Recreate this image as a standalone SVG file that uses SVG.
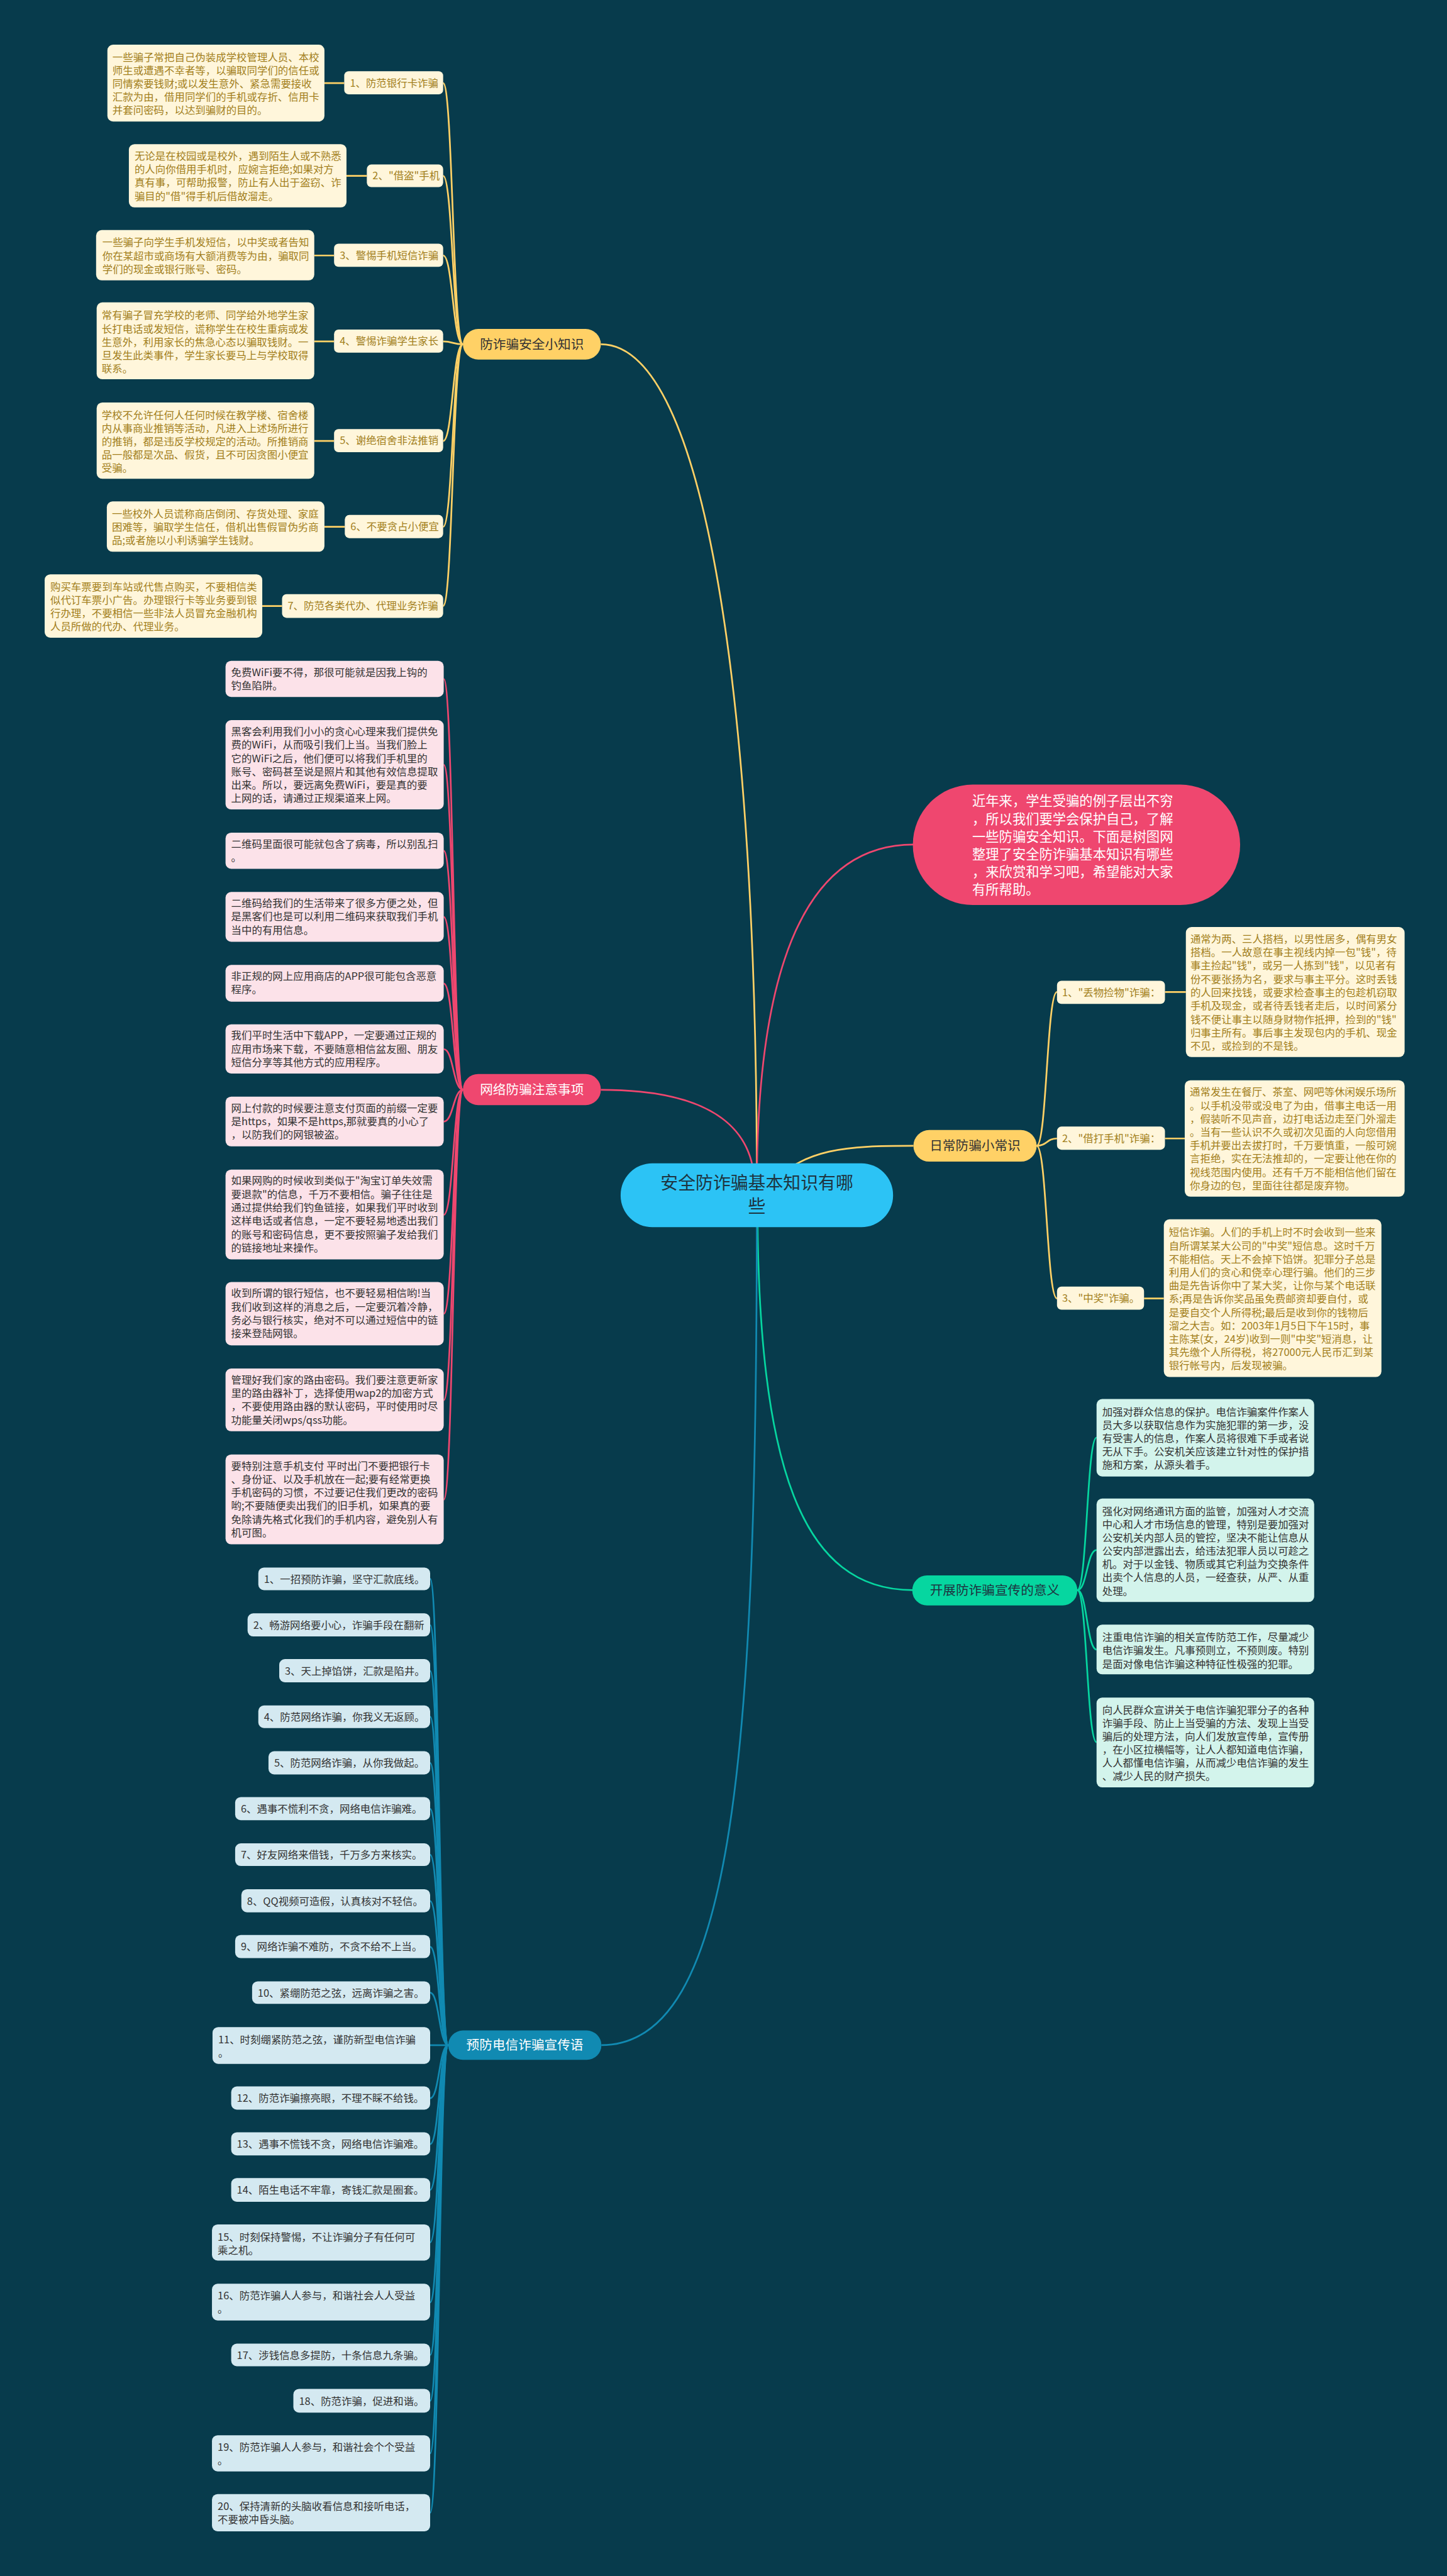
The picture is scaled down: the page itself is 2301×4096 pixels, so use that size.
<svg xmlns="http://www.w3.org/2000/svg" width="2301" height="4096" viewBox="0 0 2301 4096">
<style>
text{font-family:"Noto Sans CJK SC","Noto Sans",sans-serif}
.bg{fill:#073B4C}
.c{fill:none;stroke-width:3}
.cy{stroke:#FFD166}.cr{stroke:#EF476F}.cg{stroke:#06D6A0}.cb{stroke:#118AB2}
.yl{fill:#FFF6DB}.rl{fill:#FCE2E9}.gl{fill:#D3F4EC}.bl{fill:#D4E9F1}
.yt{fill:#A27F1C;font-size:18.3px}
.dt{fill:#333333;font-size:18.3px}
.bt{fill:#333333;font-size:18.3px}
.pt{font-size:23px}
</style>
<rect class="bg" x="0" y="0" width="2301" height="4096"/>
<g transform="scale(0.89883)">
<g id="connectors">
<path class="c cy" stroke-width="3.5" d="M1339,2100 C1339,1250 1250,609 1063,609"/>
<path class="c cr" stroke-width="3.5" d="M1063,1928 C1250,1928 1335,1990 1335,2100"/>
<path class="c cr" stroke-width="3.5" d="M1339,2100 C1339,1700 1430,1494 1616,1494"/>
<path class="c cy" stroke-width="3.5" d="M1360,2100 C1420,2030 1500,2027 1616,2027"/>
<path class="c cg" stroke-width="3.5" d="M1340,2120 C1340,2600 1420,2813 1615,2813"/>
<path class="c cb" stroke-width="3.5" d="M1339,2120 C1339,3100 1300,3618 1064,3618"/>
<path class="c cy" d="M819,609 C801,609 801,147 784,147"/>
<path class="c cy" d="M819,609 C801,609 801,311 784,311"/>
<path class="c cy" d="M819,609 C801,609 801,452 784,452"/>
<path class="c cy" d="M819,609 C801,609 801,604 784,604"/>
<path class="c cy" d="M819,609 C801,609 801,780 784,780"/>
<path class="c cy" d="M819,609 C801,609 801,932 784,932"/>
<path class="c cy" d="M819,609 C801,609 801,1072 784,1072"/>
<path class="c cy" stroke-width="3.5" d="M574,147 H609 M613,311 H649 M556,452 H591 M556,604 H591 M556,780 H591 M574,932 H610 M464,1072 H499"/>
<path class="c cr" d="M819,1928 C802,1928 802,1201 785,1201"/>
<path class="c cr" d="M819,1928 C802,1928 802,1353 785,1353"/>
<path class="c cr" d="M819,1928 C802,1928 802,1505 785,1505"/>
<path class="c cr" d="M819,1928 C802,1928 802,1622 785,1622"/>
<path class="c cr" d="M819,1928 C802,1928 802,1740 785,1740"/>
<path class="c cr" d="M819,1928 C802,1928 802,1856 785,1856"/>
<path class="c cr" d="M819,1928 C802,1928 802,1984 785,1984"/>
<path class="c cr" d="M819,1928 C802,1928 802,2149 785,2149"/>
<path class="c cr" d="M819,1928 C802,1928 802,2324 785,2324"/>
<path class="c cr" d="M819,1928 C802,1928 802,2477 785,2477"/>
<path class="c cr" d="M819,1928 C802,1928 802,2653 785,2653"/>
<path class="c cy" d="M1834,2027 C1852,2027 1852,1755 1870,1755"/>
<path class="c cy" d="M1834,2027 C1852,2027 1852,2014 1870,2014"/>
<path class="c cy" d="M1834,2027 C1852,2027 1852,2297 1870,2297"/>
<path class="c cy" stroke-width="3.5" d="M2061,1755 H2098 M2061,2014 H2096 M2024,2297 H2059"/>
<path class="c cg" d="M1906,2813 C1923,2813 1923,2543 1940,2543"/>
<path class="c cg" d="M1906,2813 C1923,2813 1923,2742 1940,2742"/>
<path class="c cg" d="M1906,2813 C1923,2813 1923,2918 1940,2918"/>
<path class="c cg" d="M1906,2813 C1923,2813 1923,3082 1940,3082"/>
<path class="c cb" d="M793,3618 C777,3618 777,2793 761,2793"/>
<path class="c cb" d="M793,3618 C777,3618 777,2875 761,2875"/>
<path class="c cb" d="M793,3618 C777,3618 777,2956 761,2956"/>
<path class="c cb" d="M793,3618 C777,3618 777,3037 761,3037"/>
<path class="c cb" d="M793,3618 C777,3618 777,3119 761,3119"/>
<path class="c cb" d="M793,3618 C777,3618 777,3200 761,3200"/>
<path class="c cb" d="M793,3618 C777,3618 777,3281 761,3281"/>
<path class="c cb" d="M793,3618 C777,3618 777,3363 761,3363"/>
<path class="c cb" d="M793,3618 C777,3618 777,3444 761,3444"/>
<path class="c cb" d="M793,3618 C777,3618 777,3525 761,3525"/>
<path class="c cb" d="M793,3618 C777,3618 777,3618 761,3618"/>
<path class="c cb" d="M793,3618 C777,3618 777,3712 761,3712"/>
<path class="c cb" d="M793,3618 C777,3618 777,3793 761,3793"/>
<path class="c cb" d="M793,3618 C777,3618 777,3874 761,3874"/>
<path class="c cb" d="M793,3618 C777,3618 777,3967 761,3967"/>
<path class="c cb" d="M793,3618 C777,3618 777,4073 761,4073"/>
<path class="c cb" d="M793,3618 C777,3618 777,4166 761,4166"/>
<path class="c cb" d="M793,3618 C777,3618 777,4247 761,4247"/>
<path class="c cb" d="M793,3618 C777,3618 777,4340 761,4340"/>
<path class="c cb" d="M793,3618 C777,3618 777,4445 761,4445"/>
</g>

<g id="root">
<rect x="1098" y="2058" width="482" height="113" rx="56" fill="#2CC3F5"/>
<text x="1339" y="2104" text-anchor="middle" font-size="31" fill="#1E3440">安全防诈骗基本知识有哪</text>
<text x="1339" y="2145" text-anchor="middle" font-size="31" fill="#1E3440">些</text>
</g>

<g id="intro">
<rect x="1615" y="1388" width="579" height="213" rx="106" fill="#EF476F"/>
<text font-size="23.7" fill="#FFFFFF"><tspan x="1720" y="1425.5">近年来，学生受骗的例子层出不穷</tspan><tspan x="1720" y="1456.9">，所以我们要学会保护自己，了解</tspan><tspan x="1720" y="1488.3">一些防骗安全知识。下面是树图网</tspan><tspan x="1720" y="1519.7">整理了安全防诈骗基本知识有哪些</tspan><tspan x="1720" y="1551.1">，来欣赏和学习吧，希望能对大家</tspan><tspan x="1720" y="1582.5">有所帮助。</tspan></text>
</g>

<g id="b-safety">
<rect x="819" y="582" width="244" height="54" rx="27" fill="#FFD166"/>
<text class="pt" x="941" y="617" text-anchor="middle" fill="#333333">防诈骗安全小知识</text>
</g>
<g id="b-net">
<rect x="819" y="1900" width="244" height="55" rx="27" fill="#EF476F"/>
<text class="pt" x="941" y="1936" text-anchor="middle" fill="#FFFFFF">网络防骗注意事项</text>
</g>
<g id="b-daily">
<rect x="1616" y="1999" width="218" height="56" rx="28" fill="#FFD166"/>
<text class="pt" x="1725" y="2035" text-anchor="middle" fill="#333333">日常防骗小常识</text>
</g>
<g id="b-meaning">
<rect x="1614" y="2787" width="292" height="53" rx="26" fill="#06D6A0"/>
<text class="pt" x="1760" y="2821" text-anchor="middle" fill="#1E3440">开展防诈骗宣传的意义</text>
</g>
<g id="b-slogan">
<rect x="793" y="3592" width="271" height="52" rx="26" fill="#118AB2"/>
<text class="pt" x="928.5" y="3626" text-anchor="middle" fill="#FFFFFF">预防电信诈骗宣传语</text>
</g>

<g id="s-l1"><rect class="yl" x="609" y="126" width="175" height="41" rx="8"/><text class="yt" x="619" y="153">1、防范银行卡诈骗</text></g>
<g id="s-l2"><rect class="yl" x="649" y="291" width="135" height="40" rx="8"/><text class="yt" x="659" y="317.5">2、"借盗"手机</text></g>
<g id="s-l3"><rect class="yl" x="591" y="431" width="193" height="41" rx="8"/><text class="yt" x="601" y="458">3、警惕手机短信诈骗</text></g>
<g id="s-l4"><rect class="yl" x="591" y="583" width="193" height="41" rx="8"/><text class="yt" x="601" y="610">4、警惕诈骗学生家长</text></g>
<g id="s-l5"><rect class="yl" x="591" y="759" width="193" height="41" rx="8"/><text class="yt" x="601" y="786">5、谢绝宿舍非法推销</text></g>
<g id="s-l6"><rect class="yl" x="610" y="911" width="174" height="41" rx="8"/><text class="yt" x="620" y="938">6、不要贪占小便宜</text></g>
<g id="s-l7"><rect class="yl" x="499" y="1051" width="285" height="42" rx="8"/><text class="yt" x="509" y="1078.5">7、防范各类代办、代理业务诈骗</text></g>

<g id="s-d1"><rect class="yl" x="190" y="79" width="384" height="136" rx="10"/><text class="yt"><tspan x="199" y="107.5">一些骗子常把自己伪装成学校管理人员、本校</tspan><tspan x="199" y="131">师生或遭遇不幸者等，以骗取同学们的信任或</tspan><tspan x="199" y="154.5">同情索要钱财;或以发生意外、紧急需要接收</tspan><tspan x="199" y="178">汇款为由，借用同学们的手机或存折、信用卡</tspan><tspan x="199" y="201.5">并套问密码，以达到骗财的目的。</tspan></text></g>
<g id="s-d2"><rect class="yl" x="228" y="255" width="385" height="112" rx="10"/><text class="yt"><tspan x="238" y="282.5">无论是在校园或是校外，遇到陌生人或不熟悉</tspan><tspan x="238" y="306.1">的人向你借用手机时，应婉言拒绝;如果对方</tspan><tspan x="238" y="329.7">真有事，可帮助报警，防止有人出于盗窃、诈</tspan><tspan x="238" y="353.3">骗目的"借"得手机后借故溜走。</tspan></text></g>
<g id="s-d3"><rect class="yl" x="170" y="407" width="386" height="89" rx="10"/><text class="yt"><tspan x="181" y="435.5">一些骗子向学生手机发短信，以中奖或者告知</tspan><tspan x="181" y="459">你在某超市或商场有大额消费等为由，骗取同</tspan><tspan x="181" y="482.5">学们的现金或银行账号、密码。</tspan></text></g>
<g id="s-d4"><rect class="yl" x="171" y="535" width="385" height="136" rx="10"/><text class="yt"><tspan x="180" y="564.5">常有骗子冒充学校的老师、同学给外地学生家</tspan><tspan x="180" y="588">长打电话或发短信，谎称学生在校生重病或发</tspan><tspan x="180" y="611.5">生意外，利用家长的焦急心态以骗取钱财。一</tspan><tspan x="180" y="635">旦发生此类事件，学生家长要马上与学校取得</tspan><tspan x="180" y="658.5">联系。</tspan></text></g>
<g id="s-d5"><rect class="yl" x="171" y="712" width="385" height="135" rx="10"/><text class="yt"><tspan x="180" y="740.5">学校不允许任何人任何时候在教学楼、宿舍楼</tspan><tspan x="180" y="764">内从事商业推销等活动，凡进入上述场所进行</tspan><tspan x="180" y="787.5">的推销，都是违反学校规定的活动。所推销商</tspan><tspan x="180" y="811">品一般都是次品、假货，且不可因贪图小便宜</tspan><tspan x="180" y="834.5">受骗。</tspan></text></g>
<g id="s-d6"><rect class="yl" x="189" y="887" width="385" height="89" rx="10"/><text class="yt"><tspan x="198" y="915.5">一些校外人员谎称商店倒闭、存货处理、家庭</tspan><tspan x="198" y="939">困难等，骗取学生信任，借机出售假冒伪劣商</tspan><tspan x="198" y="962.5">品;或者施以小利诱骗学生钱财。</tspan></text></g>
<g id="s-d7"><rect class="yl" x="79" y="1016" width="385" height="112" rx="10"/><text class="yt"><tspan x="89" y="1044.5">购买车票要到车站或代售点购买，不要相信类</tspan><tspan x="89" y="1068">似代订车票小广告。办理银行卡等业务要到银</tspan><tspan x="89" y="1091.5">行办理，不要相信一些非法人员冒充金融机构</tspan><tspan x="89" y="1115">人员所做的代办、代理业务。</tspan></text></g>

<g id="n-1"><rect class="rl" x="399" y="1169" width="386" height="64" rx="10"/><text class="dt"><tspan x="409" y="1195.5">免费WiFi要不得，那很可能就是因我上钩的</tspan><tspan x="409" y="1219.2">钓鱼陷阱。</tspan></text></g>
<g id="n-2"><rect class="rl" x="399" y="1274" width="386" height="158" rx="10"/><text class="dt"><tspan x="409" y="1300.5">黑客会利用我们小小的贪心心理来我们提供免</tspan><tspan x="409" y="1324.2">费的WiFi，从而吸引我们上当。当我们脸上</tspan><tspan x="409" y="1347.9">它的WiFi之后，他们便可以将我们手机里的</tspan><tspan x="409" y="1371.6">账号、密码甚至说是照片和其他有效信息提取</tspan><tspan x="409" y="1395.3">出来。所以，要远离免费WiFi，要是真的要</tspan><tspan x="409" y="1419">上网的话，请通过正规渠道来上网。</tspan></text></g>
<g id="n-3"><rect class="rl" x="399" y="1473" width="386" height="64" rx="10"/><text class="dt"><tspan x="409" y="1499.5">二维码里面很可能就包含了病毒，所以别乱扫</tspan><tspan x="409" y="1523.2">。</tspan></text></g>
<g id="n-4"><rect class="rl" x="399" y="1578" width="386" height="88" rx="10"/><text class="dt"><tspan x="409" y="1604.5">二维码给我们的生活带来了很多方便之处，但</tspan><tspan x="409" y="1628.2">是黑客们也是可以利用二维码来获取我们手机</tspan><tspan x="409" y="1651.9">当中的有用信息。</tspan></text></g>
<g id="n-5"><rect class="rl" x="399" y="1707" width="386" height="65" rx="10"/><text class="dt"><tspan x="409" y="1733.5">非正规的网上应用商店的APP很可能包含恶意</tspan><tspan x="409" y="1757.2">程序。</tspan></text></g>
<g id="n-6"><rect class="rl" x="399" y="1812" width="386" height="87" rx="10"/><text class="dt"><tspan x="409" y="1838.5">我们平时生活中下载APP，一定要通过正规的</tspan><tspan x="409" y="1862.2">应用市场来下载，不要随意相信盆友圈、朋友</tspan><tspan x="409" y="1885.9">短信分享等其他方式的应用程序。</tspan></text></g>
<g id="n-7"><rect class="rl" x="399" y="1940" width="386" height="88" rx="10"/><text class="dt"><tspan x="409" y="1966.5">网上付款的时候要注意支付页面的前缀一定要</tspan><tspan x="409" y="1990.2">是https，如果不是https,那就要真的小心了</tspan><tspan x="409" y="2013.9">，以防我们的网银被盗。</tspan></text></g>
<g id="n-8"><rect class="rl" x="399" y="2069" width="386" height="159" rx="10"/><text class="dt"><tspan x="409" y="2095.5">如果网购的时候收到类似于"淘宝订单失效需</tspan><tspan x="409" y="2119.2">要退款"的信息，千万不要相信。骗子往往是</tspan><tspan x="409" y="2142.9">通过提供给我们钓鱼链接，如果我们平时收到</tspan><tspan x="409" y="2166.6">这样电话或者信息，一定不要轻易地透出我们</tspan><tspan x="409" y="2190.3">的账号和密码信息，更不要按照骗子发给我们</tspan><tspan x="409" y="2214">的链接地址来操作。</tspan></text></g>
<g id="n-9"><rect class="rl" x="399" y="2268" width="386" height="112" rx="10"/><text class="dt"><tspan x="409" y="2294.5">收到所谓的银行短信，也不要轻易相信哟!当</tspan><tspan x="409" y="2318.2">我们收到这样的消息之后，一定要沉着冷静，</tspan><tspan x="409" y="2341.9">务必与银行核实，绝对不可以通过短信中的链</tspan><tspan x="409" y="2365.6">接来登陆网银。</tspan></text></g>
<g id="n-10"><rect class="rl" x="399" y="2421" width="386" height="111" rx="10"/><text class="dt"><tspan x="409" y="2447.5">管理好我们家的路由密码。我们要注意更新家</tspan><tspan x="409" y="2471.2">里的路由器补丁，选择使用wap2的加密方式</tspan><tspan x="409" y="2494.9">，不要使用路由器的默认密码，平时使用时尽</tspan><tspan x="409" y="2518.6">功能量关闭wps/qss功能。</tspan></text></g>
<g id="n-11"><rect class="rl" x="399" y="2573" width="386" height="159" rx="10"/><text class="dt"><tspan x="409" y="2599.5">要特别注意手机支付 平时出门不要把银行卡</tspan><tspan x="409" y="2623.2">、身份证、以及手机放在一起;要有经常更换</tspan><tspan x="409" y="2646.9">手机密码的习惯，不过要记住我们更改的密码</tspan><tspan x="409" y="2670.6">哟;不要随便卖出我们的旧手机，如果真的要</tspan><tspan x="409" y="2694.3">免除请先格式化我们的手机内容，避免别人有</tspan><tspan x="409" y="2718">机可图。</tspan></text></g>

<g id="d-l1"><rect class="yl" x="1870" y="1735" width="191" height="41" rx="8"/><text class="yt" x="1879" y="1762">1、"丢物捡物"诈骗：</text></g>
<g id="d-l2"><rect class="yl" x="1870" y="1993" width="191" height="41" rx="8"/><text class="yt" x="1879" y="2020">2、"借打手机"诈骗：</text></g>
<g id="d-l3"><rect class="yl" x="1870" y="2276" width="154" height="41" rx="8"/><text class="yt" x="1879" y="2303">3、"中奖"诈骗。</text></g>
<g id="d-d1"><rect class="yl" x="2098" y="1640" width="387" height="230" rx="10"/><text class="yt"><tspan x="2106" y="1667.5">通常为两、三人搭档，以男性居多，偶有男女</tspan><tspan x="2106" y="1691.2">搭档。一人故意在事主视线内掉一包"钱"，待</tspan><tspan x="2106" y="1714.9">事主捡起"钱"，或另一人拣到"钱"，以见者有</tspan><tspan x="2106" y="1738.6">份不要张扬为名，要求与事主平分。这时丢钱</tspan><tspan x="2106" y="1762.3">的人回来找钱，或要求检查事主的包趁机窃取</tspan><tspan x="2106" y="1786">手机及现金，或者待丢钱者走后，以时间紧分</tspan><tspan x="2106" y="1809.7">钱不便让事主以随身财物作抵押，捡到的"钱"</tspan><tspan x="2106" y="1833.4">归事主所有。事后事主发现包内的手机、现金</tspan><tspan x="2106" y="1857.1">不见，或捡到的不是钱。</tspan></text></g>
<g id="d-d2"><rect class="yl" x="2096" y="1911" width="389" height="206" rx="10"/><text class="yt"><tspan x="2105" y="1938.5">通常发生在餐厅、茶室、网吧等休闲娱乐场所</tspan><tspan x="2105" y="1962.1">。以手机没带或没电了为由，借事主电话一用</tspan><tspan x="2105" y="1985.7">，假装听不见声音，边打电话边走至门外溜走</tspan><tspan x="2105" y="2009.3">。当有一些认识不久或初次见面的人向您借用</tspan><tspan x="2105" y="2032.9">手机并要出去拔打时，千万要慎重，一般可婉</tspan><tspan x="2105" y="2056.5">言拒绝，实在无法推却的，一定要让他在你的</tspan><tspan x="2105" y="2080.1">视线范围内使用。还有千万不能相信他们留在</tspan><tspan x="2105" y="2103.7">你身边的包，里面往往都是废弃物。</tspan></text></g>
<g id="d-d3"><rect class="yl" x="2059" y="2157" width="385" height="279" rx="10"/><text class="yt"><tspan x="2068" y="2186.5">短信诈骗。人们的手机上时不时会收到一些来</tspan><tspan x="2068" y="2210.1">自所谓某某大公司的"中奖"短信息。这时千万</tspan><tspan x="2068" y="2233.7">不能相信。天上不会掉下馅饼。犯罪分子总是</tspan><tspan x="2068" y="2257.3">利用人们的贪心和侥幸心理行骗。他们的三步</tspan><tspan x="2068" y="2280.9">曲是先告诉你中了某大奖，让你与某个电话联</tspan><tspan x="2068" y="2304.5">系;再是告诉你奖品虽免费邮资却要自付，或</tspan><tspan x="2068" y="2328.1">是要自交个人所得税;最后是收到你的钱物后</tspan><tspan x="2068" y="2351.7">溜之大吉。如：2003年1月5日下午15时，事</tspan><tspan x="2068" y="2375.3">主陈某(女，24岁)收到一则"中奖"短消息，让</tspan><tspan x="2068" y="2398.9">其先缴个人所得税，将27000元人民币汇到某</tspan><tspan x="2068" y="2422.5">银行帐号内，后发现被骗。</tspan></text></g>

<g id="m-1"><rect class="gl" x="1940" y="2475" width="385" height="137" rx="10"/><text class="dt"><tspan x="1950" y="2504.5">加强对群众信息的保护。电信诈骗案件作案人</tspan><tspan x="1950" y="2527.9">员大多以获取信息作为实施犯罪的第一步，没</tspan><tspan x="1950" y="2551.3">有受害人的信息，作案人员将很难下手或者说</tspan><tspan x="1950" y="2574.7">无从下手。公安机关应该建立针对性的保护措</tspan><tspan x="1950" y="2598.1">施和方案，从源头着手。</tspan></text></g>
<g id="m-2"><rect class="gl" x="1940" y="2651" width="385" height="183" rx="10"/><text class="dt"><tspan x="1950" y="2680">强化对网络通讯方面的监管，加强对人才交流</tspan><tspan x="1950" y="2703.5">中心和人才市场信息的管理，特别是要加强对</tspan><tspan x="1950" y="2727">公安机关内部人员的管控，坚决不能让信息从</tspan><tspan x="1950" y="2750.5">公安内部泄露出去，给违法犯罪人员以可趁之</tspan><tspan x="1950" y="2774">机。对于以金钱、物质或其它利益为交换条件</tspan><tspan x="1950" y="2797.5">出卖个人信息的人员，一经查获，从严、从重</tspan><tspan x="1950" y="2821">处理。</tspan></text></g>
<g id="m-3"><rect class="gl" x="1940" y="2874" width="385" height="88" rx="10"/><text class="dt"><tspan x="1950" y="2903">注重电信诈骗的相关宣传防范工作，尽量减少</tspan><tspan x="1950" y="2926.5">电信诈骗发生。凡事预则立，不预则废。特别</tspan><tspan x="1950" y="2950">是面对像电信诈骗这种特征性极强的犯罪。</tspan></text></g>
<g id="m-4"><rect class="gl" x="1940" y="3003" width="385" height="159" rx="10"/><text class="dt"><tspan x="1950" y="3031.5">向人民群众宣讲关于电信诈骗犯罪分子的各种</tspan><tspan x="1950" y="3055">诈骗手段、防止上当受骗的方法、发现上当受</tspan><tspan x="1950" y="3078.5">骗后的处理方法，向人们发放宣传单，宣传册</tspan><tspan x="1950" y="3102">，在小区拉横幅等，让人人都知道电信诈骗，</tspan><tspan x="1950" y="3125.5">人人都懂电信诈骗，从而减少电信诈骗的发生</tspan><tspan x="1950" y="3149">、减少人民的财产损失。</tspan></text></g>

<g id="p-1"><rect class="bl" x="457" y="2773" width="304" height="40" rx="10"/><text class="bt" x="467" y="2800">1、一招预防诈骗，坚守汇款底线。</text></g>
<g id="p-2"><rect class="bl" x="438" y="2854" width="323" height="41" rx="10"/><text class="bt" x="448" y="2881.5">2、畅游网络要小心，诈骗手段在翻新</text></g>
<g id="p-3"><rect class="bl" x="494" y="2935" width="267" height="41" rx="10"/><text class="bt" x="504" y="2962.5">3、天上掉馅饼，汇款是陷井。</text></g>
<g id="p-4"><rect class="bl" x="457" y="3017" width="304" height="40" rx="10"/><text class="bt" x="467" y="3044">4、防范网络诈骗，你我义无返顾。</text></g>
<g id="p-5"><rect class="bl" x="475" y="3098" width="286" height="41" rx="10"/><text class="bt" x="485" y="3125.5">5、防范网络诈骗，从你我做起。</text></g>
<g id="p-6"><rect class="bl" x="416" y="3179" width="345" height="41" rx="10"/><text class="bt" x="426" y="3206.5">6、遇事不慌利不贪，网络电信诈骗难。</text></g>
<g id="p-7"><rect class="bl" x="416" y="3261" width="345" height="40" rx="10"/><text class="bt" x="426" y="3288">7、好友网络来借钱，千万多方来核实。</text></g>
<g id="p-8"><rect class="bl" x="427" y="3342" width="334" height="41" rx="10"/><text class="bt" x="437" y="3369.5">8、QQ视频可造假，认真核对不轻信。</text></g>
<g id="p-9"><rect class="bl" x="416" y="3423" width="345" height="41" rx="10"/><text class="bt" x="426" y="3450.5">9、网络诈骗不难防，不贪不给不上当。</text></g>
<g id="p-10"><rect class="bl" x="446" y="3505" width="315" height="40" rx="10"/><text class="bt" x="456" y="3532">10、紧绷防范之弦，远离诈骗之害。</text></g>
<g id="p-11"><rect class="bl" x="376" y="3586" width="385" height="65" rx="10"/><text class="bt"><tspan x="386" y="3614.5">11、时刻绷紧防范之弦，谨防新型电信诈骗</tspan><tspan x="386" y="3638">。</tspan></text></g>
<g id="p-12"><rect class="bl" x="409" y="3691" width="352" height="41" rx="10"/><text class="bt" x="419" y="3718.5">12、防范诈骗擦亮眼，不理不睬不给钱。</text></g>
<g id="p-13"><rect class="bl" x="409" y="3772" width="352" height="41" rx="10"/><text class="bt" x="419" y="3799.5">13、遇事不慌钱不贪，网络电信诈骗难。</text></g>
<g id="p-14"><rect class="bl" x="409" y="3853" width="352" height="42" rx="10"/><text class="bt" x="419" y="3881">14、陌生电话不牢靠，寄钱汇款是圈套。</text></g>
<g id="p-15"><rect class="bl" x="375" y="3935" width="386" height="64" rx="10"/><text class="bt"><tspan x="385" y="3963.5">15、时刻保持警惕，不让诈骗分子有任何可</tspan><tspan x="385" y="3987">乘之机。</tspan></text></g>
<g id="p-16"><rect class="bl" x="375" y="4040" width="386" height="65" rx="10"/><text class="bt"><tspan x="385" y="4067.5">16、防范诈骗人人参与，和谐社会人人受益</tspan><tspan x="385" y="4091">。</tspan></text></g>
<g id="p-17"><rect class="bl" x="409" y="4146" width="352" height="40" rx="10"/><text class="bt" x="419" y="4173">17、涉钱信息多提防，十条信息九条骗。</text></g>
<g id="p-18"><rect class="bl" x="519" y="4226" width="242" height="42" rx="10"/><text class="bt" x="529" y="4254">18、防范诈骗，促进和谐。</text></g>
<g id="p-19"><rect class="bl" x="375" y="4308" width="386" height="64" rx="10"/><text class="bt"><tspan x="385" y="4335.5">19、防范诈骗人人参与，和谐社会个个受益</tspan><tspan x="385" y="4359">。</tspan></text></g>
<g id="p-20"><rect class="bl" x="375" y="4412" width="386" height="66" rx="10"/><text class="bt"><tspan x="385" y="4440.5">20、保持清新的头脑收看信息和接听电话，</tspan><tspan x="385" y="4464">不要被冲昏头脑。</tspan></text></g>
</g>
</svg>
